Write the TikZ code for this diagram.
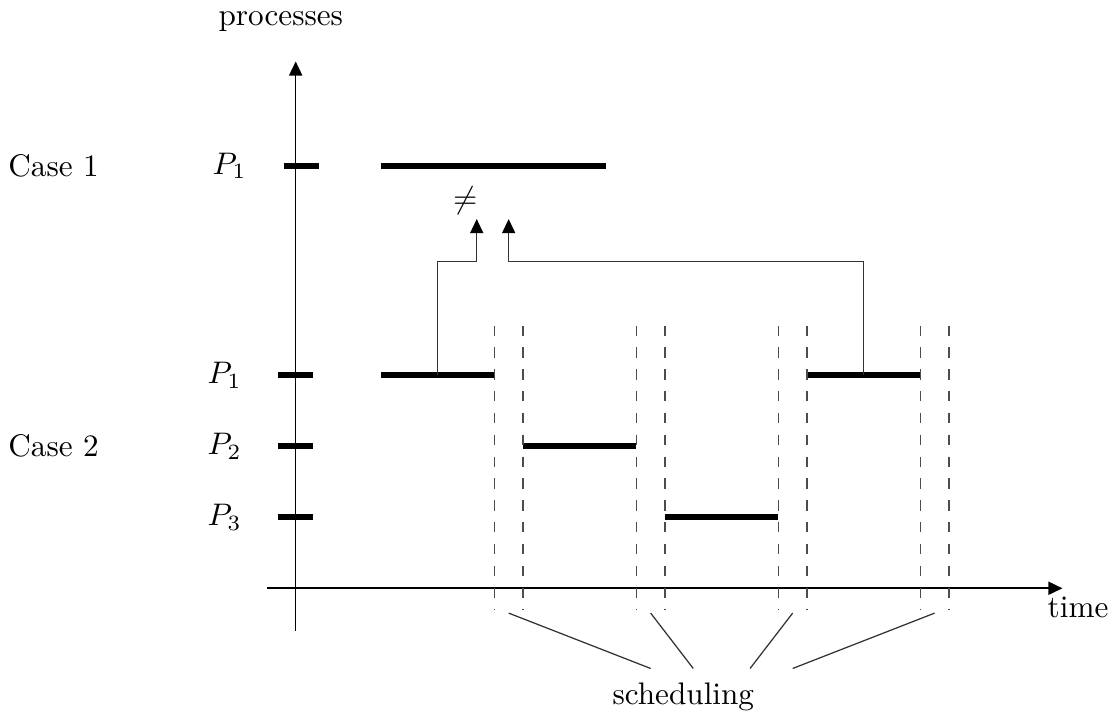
\documentclass[tikz,border=0pt]{standalone}
\usepackage{tikz}
\usetikzlibrary{arrows.meta}

\begin{document}
\begin{tikzpicture}[x=0.8cm, y=0.8cm, line width=0.5pt,
    bar/.style={line width=1.8pt},
    slot/.style={black!70, line width=0.5pt, dash pattern=on 3.3pt off 3.7pt},
    link/.style={black!80, line width=0.4pt},
    tip/.style={-{Triangle[length=4.5pt, width=4.2pt, color=black]}}]
    \useasboundingbox (-4.165, -1.728) rectangle (11.47, 8.286);

    % draw axes
    \draw[tip] (0, -0.6) -- (0, 7.42);
    \draw[tip] (-0.4, 0) -- (10.8, 0);
    \node (procs) at (-0.21, 7.98) {processes};
    \node (time) at (11.02, -0.27) {time};

    % draw case 1
    \node (case1) at (-3.41, 5.95) {Case 1};
    \node (c1p1) at (-0.93, 5.95) {$P_1$};
    \draw[bar] (-0.17, 5.95) -- (0.33, 5.95);
    \draw[bar] (1.2, 5.95) -- (4.37, 5.95);

    % draw case 2
    \node (case2) at (-3.41, 2) {Case 2};
    \foreach \i/\y in {1/3, 2/2, 3/1} {
        \node (c2p\i) at (-1, \y) {$P_\i$};
        \draw[bar] (-0.25, \y) -- (0.25, \y);
    }
    \draw[bar] (1.2, 3) -- (2.8, 3);
    \draw[bar] (3.2, 2) -- (4.8, 2);
    \draw[bar] (5.2, 1) -- (6.8, 1);
    \draw[bar] (7.2, 3) -- (8.8, 3);

    % draw dashed scheduling slots
    \foreach \x in {2.8, 3.2, 4.8, 5.2, 6.8, 7.2, 8.8, 9.2}
        \draw[slot] (\x, 3.7) -- (\x, -0.3);

    % draw comparison arrows
    \node (neq) at (2.39, 5.46) {$\neq$};
    \coordinate (tipa) at (2.55, 5.2);
    \coordinate (tipb) at (3, 5.2);
    \draw[link, tip] (2, 3) -- (2, 4.6) -- (2.55, 4.6) -- (tipa);
    \draw[link, tip] (8, 3) -- (8, 4.6) -- (3, 4.6) -- (tipb);

    % draw scheduling label
    \node (sched) at (5.46, -1.53) {scheduling};
    \foreach \x/\e in {3/5, 5/5.6, 7/6.4, 9/7} {
        \coordinate (s\x) at (\x, -0.35);
        \coordinate (e\x) at (\e, -1.13);
        \draw[link] (s\x) -- (e\x);
    }
\end{tikzpicture}
\end{document}
